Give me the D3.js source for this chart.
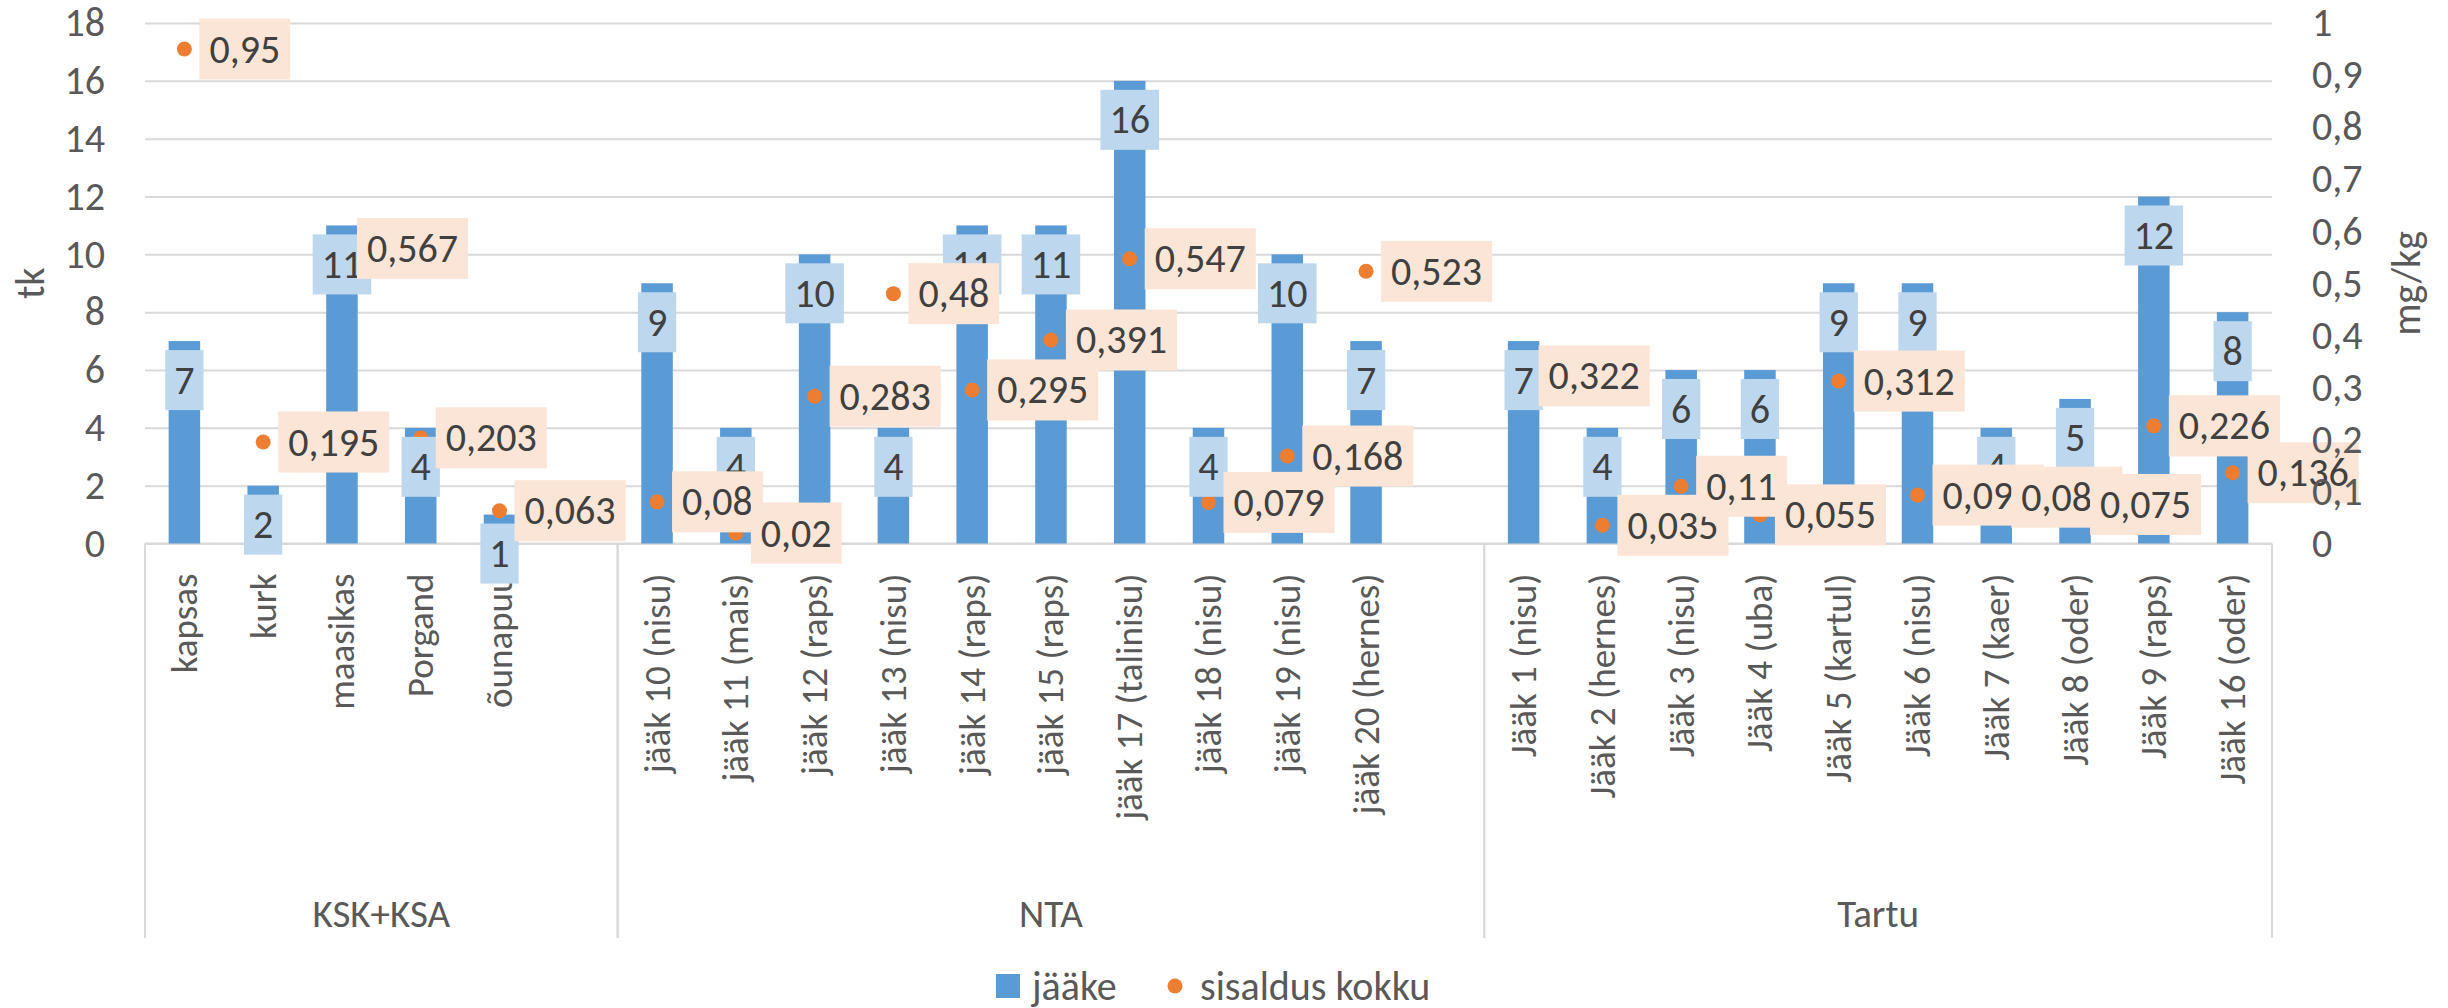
<!DOCTYPE html>
<html>
<head>
<meta charset="utf-8">
<script src="https://cdn.jsdelivr.net/npm/d3@7"></script>
<style>
  body { margin: 0; background: #fff; }
  text { font-family: Carlito, Lato, "Open Sans", sans-serif; }
</style>
</head>
<body>
<div id="chart"></div>
<script>
// categories, one slot per bar; empty slots separate the groups like in Excel
const categories = [
  "kapsas", "kurk", "maasikas", "Porgand", "õunapuu", "",
  "jääk 10 (nisu)", "jääk 11 (mais)", "jääk 12 (raps)", "jääk 13 (nisu)", "jääk 14 (raps)",
  "jääk 15 (raps)", "jääk 17 (talinisu)", "jääk 18 (nisu)", "jääk 19 (nisu)", "jääk 20 (hernes)", "",
  "Jääk 1 (nisu)", "Jääk 2 (hernes)", "Jääk 3 (nisu)", "Jääk 4 (uba)", "Jääk 5 (kartul)",
  "Jääk 6 (nisu)", "Jääk 7 (kaer)", "Jääk 8 (oder)", "Jääk 9 (raps)", "Jääk 16 (oder)"
];
const groupNames = ["KSK+KSA", "NTA", "Tartu"];
const groupOf = [
  0, 0, 0, 0, 0, 0,
  1, 1, 1, 1, 1, 1, 1, 1, 1, 1, 1,
  2, 2, 2, 2, 2, 2, 2, 2, 2, 2
];
const jaake = [
  7, 2, 11, 4, 1, null,
  9, 4, 10, 4, 11, 11, 16, 4, 10, 7, null,
  7, 4, 6, 6, 9, 9, 4, 5, 12, 8
];
const sisaldus = [
  0.95, 0.195, 0.567, 0.203, 0.063, null,
  0.08, 0.02, 0.283, 0.48, 0.295, 0.391, 0.547, 0.079, 0.168, 0.523, null,
  0.322, 0.035, 0.11, 0.055, 0.312, 0.093, 0.089, 0.075, 0.226, 0.136
];
const leftTicks = [0, 2, 4, 6, 8, 10, 12, 14, 16, 18];
const rightTicks = [0, 0.1, 0.2, 0.3, 0.4, 0.5, 0.6, 0.7, 0.8, 0.9, 1];
const seriesNames = ["jääke", "sisaldus kokku"];

const width = 2448, height = 1008;
const plot = { left: 145, right: 2272, top: 23, bottom: 543.5 };
const fs = 37;
const barColor = "#5B9BD5", dotColor = "#ED7D31";
const barLabelFill = "#BDD7EE", dotLabelFill = "#FBE5D6";
const gridColor = "#D9D9D9", axisText = "#595959", labelText = "#404040";
const comma = v => String(v).replace(".", ",");

const svg = d3.select("#chart").append("svg")
    .attr("width", width)
    .attr("height", height);
svg.append("rect").attr("width", width).attr("height", height).attr("fill", "#fff");

const x = d3.scaleBand()
    .domain(d3.range(categories.length))
    .range([plot.left, plot.right])
    .paddingInner(0.6)
    .paddingOuter(0.3);
const yL = d3.scaleLinear().domain([0, 18]).range([plot.bottom, plot.top]);
const yR = d3.scaleLinear().domain([0, 1]).range([plot.bottom, plot.top]);
const cx = i => x(i) + x.bandwidth() / 2;

// gridlines
const grid = svg.append("g")
    .attr("transform", `translate(${plot.left},0)`)
    .call(d3.axisLeft(yL).tickValues(leftTicks).tickSize(-(plot.right - plot.left)).tickFormat(""));
grid.select(".domain").remove();
grid.selectAll("line").attr("stroke", gridColor).attr("stroke-width", 2);

// left axis labels
const axL = svg.append("g")
    .attr("transform", `translate(${plot.left},0)`)
    .call(d3.axisLeft(yL).tickValues(leftTicks).tickSize(0).tickPadding(40));
axL.select(".domain").remove();
axL.selectAll("text").attr("font-size", fs + 3).attr("fill", axisText).attr("font-family", null);

// axis titles
svg.append("text")
    .attr("transform", `translate(30,${(plot.top + plot.bottom) / 2}) rotate(-90)`)
    .attr("text-anchor", "middle").attr("dominant-baseline", "central")
    .attr("font-size", fs + 3).attr("fill", axisText)
    .text("tk");
svg.append("text")
    .attr("transform", `translate(2406,${(plot.top + plot.bottom) / 2}) rotate(-90)`)
    .attr("text-anchor", "middle").attr("dominant-baseline", "central")
    .attr("font-size", fs + 3).attr("fill", axisText)
    .text("mg/kg");

// category axis
const axB = svg.append("g")
    .attr("transform", `translate(0,${plot.bottom})`)
    .call(d3.axisBottom(x).tickSize(0).tickFormat(i => categories[i]));
axB.select(".domain").remove();
axB.selectAll("text")
    .attr("font-size", fs).attr("fill", axisText).attr("font-family", null)
    .attr("transform", "rotate(-90)")
    .attr("x", -30).attr("y", 0).attr("dy", null)
    .attr("dominant-baseline", "central")
    .attr("text-anchor", "end");

// axis line and group separators
const sepBottom = 938;
svg.append("line")
    .attr("x1", plot.left).attr("x2", plot.right)
    .attr("y1", plot.bottom).attr("y2", plot.bottom)
    .attr("stroke", gridColor).attr("stroke-width", 2);
groupNames.forEach((g, gi) => {
  const idx = d3.range(categories.length).filter(i => groupOf[i] === gi);
  const x0 = x(idx[0]) - x.step() * x.paddingInner() / 2;
  const x1 = x(idx[idx.length - 1]) + x.bandwidth() + x.step() * x.paddingInner() / 2;
  [x0, x1].forEach(xx => {
    svg.append("line")
        .attr("x1", xx).attr("x2", xx)
        .attr("y1", plot.bottom).attr("y2", sepBottom)
        .attr("stroke", gridColor).attr("stroke-width", 2);
  });
  svg.append("text")
      .attr("x", (x0 + x1) / 2).attr("y", 913)
      .attr("text-anchor", "middle").attr("dominant-baseline", "central")
      .attr("font-size", fs + 2).attr("fill", axisText)
      .text(g);
});

// bars
const idxBars = d3.range(categories.length).filter(i => jaake[i] != null);
svg.append("g").selectAll("rect")
    .data(idxBars)
    .join("rect")
    .attr("x", i => x(i))
    .attr("width", x.bandwidth())
    .attr("y", i => yL(jaake[i]))
    .attr("height", i => yL(0) - yL(jaake[i]))
    .attr("fill", barColor);

// dots
const idxDots = d3.range(categories.length).filter(i => sisaldus[i] != null);
svg.append("g").selectAll("circle")
    .data(idxDots)
    .join("circle")
    .attr("cx", cx)
    .attr("cy", i => yR(sisaldus[i]))
    .attr("r", 7.5)
    .attr("fill", dotColor);

// bar labels (inside end)
idxBars.forEach(i => {
  const g = svg.append("g");
  const top = yL(jaake[i]) + 9;
  const r = g.append("rect").attr("fill", barLabelFill);
  const t = g.append("text")
      .attr("x", cx(i)).attr("y", top + 30)
      .attr("text-anchor", "middle").attr("dominant-baseline", "central")
      .attr("font-size", fs + 3).attr("fill", labelText)
      .text(jaake[i]);
  const w = t.node().getComputedTextLength() + 18;
  r.attr("x", cx(i) - w / 2).attr("y", top).attr("width", w).attr("height", 60);
});

// dot labels (right)
idxDots.forEach(i => {
  const g = svg.append("g");
  const yy = yR(sisaldus[i]);
  const left = cx(i) + 15;
  const r = g.append("rect").attr("fill", dotLabelFill);
  const t = g.append("text")
      .attr("x", left + 10).attr("y", yy)
      .attr("dominant-baseline", "central")
      .attr("font-size", fs + 3).attr("fill", labelText)
      .text(comma(sisaldus[i]));
  const w = t.node().getComputedTextLength() + 20;
  r.attr("x", left).attr("y", yy - 30.5).attr("width", w).attr("height", 61);
});

// right axis labels (drawn last, they sit above the label boxes)
const axR = svg.append("g")
    .attr("transform", `translate(${plot.right},0)`)
    .call(d3.axisRight(yR).tickValues(rightTicks).tickSize(0).tickPadding(40).tickFormat(d => comma(+d.toFixed(1))));
axR.select(".domain").remove();
axR.selectAll("text").attr("font-size", fs + 3).attr("fill", axisText).attr("font-family", null);

// legend
const leg = svg.append("g");
leg.append("rect").attr("x", 996).attr("y", 974).attr("width", 24).attr("height", 24).attr("fill", barColor);
leg.append("text").attr("x", 1032).attr("y", 986).attr("dominant-baseline", "central")
    .attr("font-size", fs + 3).attr("fill", axisText).text(seriesNames[0]);
leg.append("circle").attr("cx", 1175).attr("cy", 986).attr("r", 7.5).attr("fill", dotColor);
leg.append("text").attr("x", 1200).attr("y", 986).attr("dominant-baseline", "central")
    .attr("font-size", fs + 3).attr("fill", axisText).text(seriesNames[1]);
</script>
</body>
</html>
